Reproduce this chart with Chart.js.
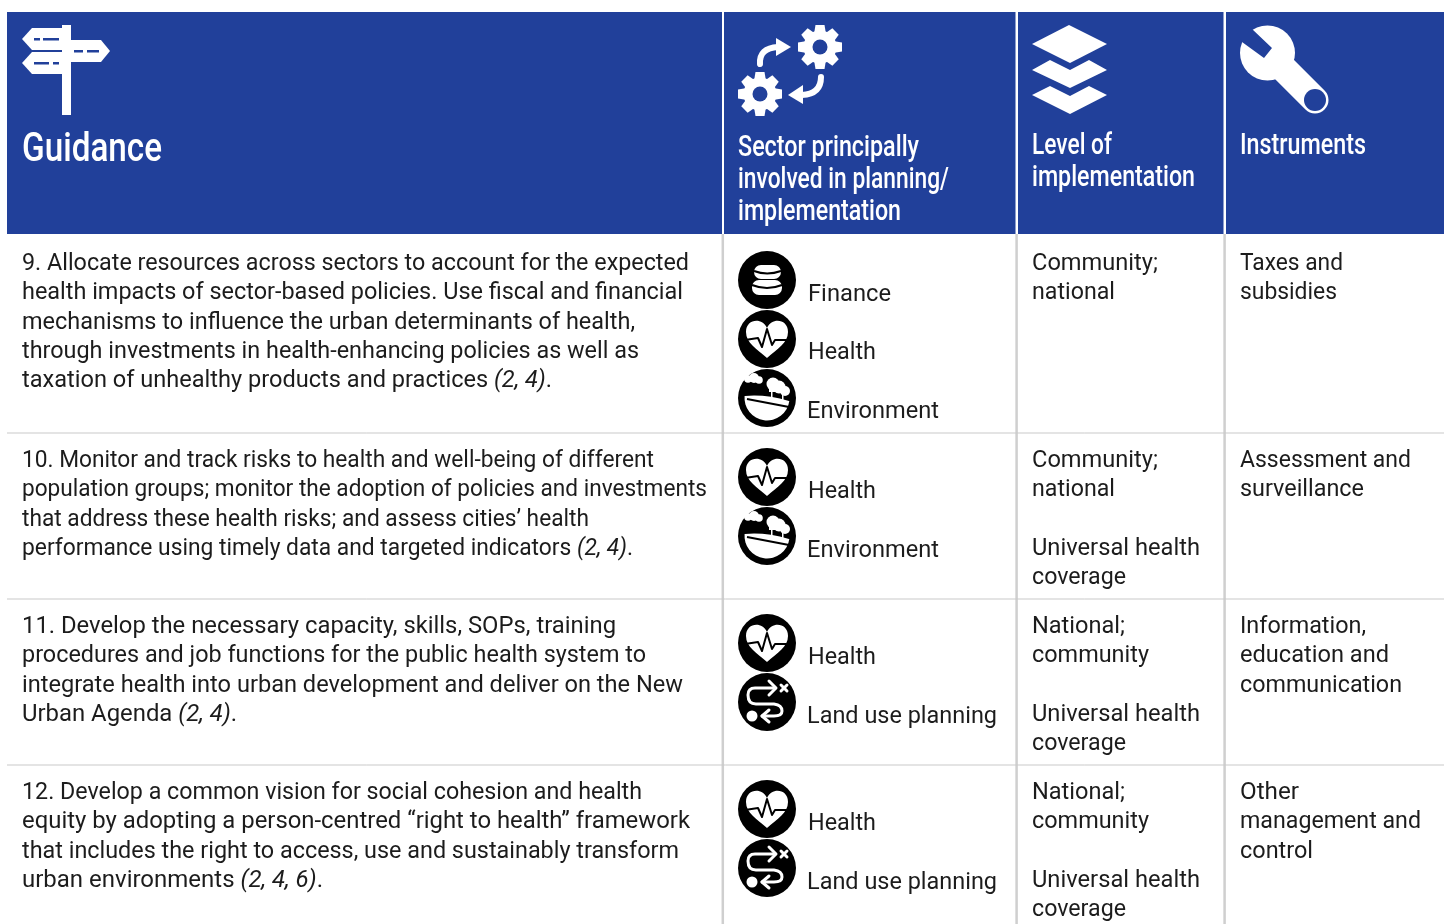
<!DOCTYPE html>
<html>
<head>
<meta charset="utf-8">
<title>Guidance table</title>
<script src="https://cdn.jsdelivr.net/npm/chart.js"></script>
<style>
    html, body { margin: 0; padding: 0; background: #fff; }
    canvas { display: block; }
</style>
</head>
<body>
<canvas id="tableChart" width="1444" height="924"></canvas>
<script>
// Table content
const guidanceTitle = 'Guidance';
const sectorTitle = ['Sector principally', 'involved in planning/', 'implementation'];
const levelTitle = ['Level of', 'implementation'];
const instrumentTitle = ['Instruments'];

// *...* marks the italic part of a line
const guidanceRows = [
    ['9. Allocate resources across sectors to account for the expected',
     'health impacts of sector-based policies. Use fiscal and financial',
     'mechanisms to influence the urban determinants of health,',
     'through investments in health-enhancing policies as well as',
     'taxation of unhealthy products and practices *(2, 4)*.'],
    ['10. Monitor and track risks to health and well-being of different',
     'population groups; monitor the adoption of policies and investments',
     'that address these health risks; and assess cities’ health',
     'performance using timely data and targeted indicators *(2, 4)*.'],
    ['11. Develop the necessary capacity, skills, SOPs, training',
     'procedures and job functions for the public health system to',
     'integrate health into urban development and deliver on the New',
     'Urban Agenda *(2, 4)*.'],
    ['12. Develop a common vision for social cohesion and health',
     'equity by adopting a person-centred “right to health” framework',
     'that includes the right to access, use and sustainably transform',
     'urban environments *(2, 4, 6)*.']
];
const sectorRows = [
    ['Finance', 'Health', 'Environment'],
    ['Health', 'Environment'],
    ['Health', 'Land use planning'],
    ['Health', 'Land use planning']
];
const levelRows = [
    ['Community;', 'national'],
    ['Community;', 'national', '', 'Universal health', 'coverage'],
    ['National;', 'community', '', 'Universal health', 'coverage'],
    ['National;', 'community', '', 'Universal health', 'coverage']
];
const instrumentRows = [
    ['Taxes and', 'subsidies'],
    ['Assessment and', 'surveillance'],
    ['Information,', 'education and', 'communication'],
    ['Other', 'management and', 'control']
];

// Grid and text fitting
const rowRules = [433, 599, 765];
const columnRules = [722.8, 1016.6, 1224.6];
const firstBaselines = [270, 467, 633, 799];
const sectorIconY = [[280, 339, 398], [477, 536], [643, 702], [809, 868]];
const sectorLabelY = [[301, 359, 418], [498, 557], [664, 723], [830, 889]];
const guidanceEnds = [
    [689, 683, 635, 639, 552],
    [654, 707, 589, 633],
    [616, 646, 683, 237],
    [642, 690, 679, 323]
];
const cellWidths = {
    'Finance': 83, 'Health': 68, 'Environment': 132, 'Land use planning': 190,
    'Community;': 126, 'national': 83, 'Universal health': 168, 'coverage': 94,
    'National;': 93, 'community': 117,
    'Taxes and': 103, 'subsidies': 97, 'Assessment and': 171, 'surveillance': 124,
    'Information,': 126, 'education and': 149, 'communication': 162,
    'Other': 59, 'management and': 181, 'control': 73
};

const NAVY = '#21409a';
const INK = '#1c1c1c';
const BODY_FONT = 'Roboto';
const BODY_SIZE = 24;
const LINE = 29.35;

function polygon(ctx, pts) {
    ctx.beginPath();
    pts.forEach((p, i) => i ? ctx.lineTo(p[0], p[1]) : ctx.moveTo(p[0], p[1]));
    ctx.closePath();
    ctx.fill();
}

function polyline(ctx, pts) {
    ctx.beginPath();
    pts.forEach((p, i) => i ? ctx.lineTo(p[0], p[1]) : ctx.moveTo(p[0], p[1]));
    ctx.stroke();
}

// Width-fitted header text
function fitted(ctx, text, x, y, size, width) {
    ctx.font = `500 ${size}px ${BODY_FONT}`;
    const k = width / ctx.measureText(text).width;
    ctx.save();
    ctx.translate(x, y);
    ctx.scale(k, 1);
    ctx.fillText(text, 0, 0);
    ctx.restore();
}

function spanWidth(ctx, text) {
    let total = 0;
    text.split('*').forEach((part, i) => {
        ctx.font = `${i % 2 ? 'italic ' : ''}${BODY_SIZE}px ${BODY_FONT}`;
        total += ctx.measureText(part).width;
    });
    return total;
}

// Body text fitted to a width, with italic spans
function bodyText(ctx, text, x, y, width) {
    const k = width / spanWidth(ctx, text);
    ctx.save();
    ctx.translate(x, y);
    ctx.scale(k, 1);
    let pen = 0;
    text.split('*').forEach((part, i) => {
        ctx.font = `${i % 2 ? 'italic ' : ''}${BODY_SIZE}px ${BODY_FONT}`;
        ctx.fillText(part, pen, 0);
        pen += ctx.measureText(part).width;
    });
    ctx.restore();
}

function drawGear(ctx, cx, cy) {
    ctx.fillStyle = '#fff';
    ctx.save();
    ctx.translate(cx, cy);
    for (let i = 0; i < 8; i++) {
        ctx.rotate(Math.PI / 4);
        polygon(ctx, [[-4.5, -22], [4.5, -22], [6, -13], [-6, -13]]);
    }
    ctx.beginPath();
    ctx.arc(0, 0, 16.5, 0, Math.PI * 2);
    ctx.fill();
    ctx.fillStyle = NAVY;
    ctx.beginPath();
    ctx.arc(0, 0, 7.5, 0, Math.PI * 2);
    ctx.fill();
    ctx.restore();
}

function drawHeaderIcons(ctx) {
    ctx.fillStyle = '#fff';
    ctx.strokeStyle = '#fff';
    // signpost
    ctx.fillRect(62, 25, 9, 90);
    polygon(ctx, [[22, 39], [32, 28], [63, 28], [63, 50], [32, 50]]);
    polygon(ctx, [[70, 40], [101, 40], [110, 51], [101, 62], [70, 62]]);
    polygon(ctx, [[22, 63], [32, 52], [63, 52], [63, 74], [32, 74]]);
    ctx.fillStyle = NAVY;
    [[34, 38, 6], [43, 38, 16], [74, 50, 9], [87, 50, 12], [34, 62, 15], [53, 62, 6]].forEach(d => {
        ctx.fillRect(d[0], d[1], d[2], 2.5);
    });

    // gears and arrows
    drawGear(ctx, 820, 47);
    drawGear(ctx, 760, 94);
    ctx.fillStyle = '#fff';
    ctx.lineWidth = 6;
    ctx.lineCap = 'round';
    ctx.beginPath();
    ctx.moveTo(760, 64);
    ctx.quadraticCurveTo(759, 48, 778, 47);
    ctx.stroke();
    polygon(ctx, [[776, 38], [791, 47], [776, 56]]);
    ctx.beginPath();
    ctx.moveTo(821, 77);
    ctx.quadraticCurveTo(821, 94, 802, 95);
    ctx.stroke();
    polygon(ctx, [[803, 85], [788, 95], [803, 104]]);

    // layers
    polygon(ctx, [[1032, 44], [1069, 25], [1107, 44], [1070, 63]]);
    polygon(ctx, [[1032, 70], [1050, 60], [1070, 70], [1089, 60], [1107, 70], [1070, 88]]);
    polygon(ctx, [[1032, 95], [1050, 86], [1070, 96], [1089, 86], [1107, 95], [1070, 114]]);

    // wrench
    ctx.beginPath();
    ctx.arc(1267.5, 53, 27.5, 0, Math.PI * 2);
    ctx.fill();
    ctx.lineWidth = 27;
    polyline(ctx, [[1275, 60], [1315, 100]]);
    ctx.fillStyle = NAVY;
    polygon(ctx, [[1252, 29], [1272, 48], [1264, 58], [1242, 42], [1236, 30], [1246, 22]]);
    ctx.beginPath();
    ctx.arc(1315, 100, 11, 0, Math.PI * 2);
    ctx.fill();
    ctx.lineCap = 'butt';
}

function drawFinance(ctx, c) {
    ctx.fillStyle = '#fff';
    ctx.beginPath();
    ctx.roundRect(c.x - 13, c.y - 15, 27, 14, 7);
    ctx.roundRect(c.x - 15, c.y + 0, 30, 15, 7);
    ctx.fill();
    ctx.strokeStyle = '#000';
    ctx.lineWidth = 2;
    ctx.beginPath();
    ctx.moveTo(c.x - 13, c.y - 9);
    ctx.quadraticCurveTo(c.x, c.y - 4, c.x + 14, c.y - 9);
    ctx.moveTo(c.x - 15, c.y + 5);
    ctx.quadraticCurveTo(c.x, c.y + 11, c.x + 15, c.y + 5);
    ctx.stroke();
}

function drawHeart(ctx, c) {
    ctx.fillStyle = '#fff';
    ctx.beginPath();
    ctx.moveTo(c.x, c.y + 19);
    ctx.bezierCurveTo(c.x - 10, c.y + 10, c.x - 21, c.y + 4, c.x - 21, c.y - 7);
    ctx.bezierCurveTo(c.x - 21, c.y - 20, c.x - 5, c.y - 22, c.x, c.y - 11);
    ctx.bezierCurveTo(c.x + 5, c.y - 22, c.x + 21, c.y - 20, c.x + 21, c.y - 7);
    ctx.bezierCurveTo(c.x + 21, c.y + 4, c.x + 10, c.y + 10, c.x, c.y + 19);
    ctx.fill();
    ctx.strokeStyle = '#000';
    ctx.lineWidth = 2;
    ctx.lineJoin = 'round';
    const ecg = [[-22, 1], [-9, -1], [-5, 8], [0, -10], [5, 6], [8, 1], [22, 1]];
    polyline(ctx, ecg.map(p => [c.x + p[0], c.y + p[1]]));
}

function drawEnvironment(ctx, c) {
    ctx.fillStyle = '#fff';
    // hill
    ctx.beginPath();
    ctx.moveTo(c.x - 22, c.y - 2);
    ctx.quadraticCurveTo(c.x - 2, c.y - 4, c.x + 22, c.y + 3);
    ctx.arc(c.x, c.y, 22.5, 0.13, Math.PI + 0.09);
    ctx.fill();
    // trees and cloud
    [[6, -14, 6.5], [12, -11, 6.5], [18, -7, 5], [-19, -19, 3.8], [-13, -20, 5], [-8, -18, 3.8]].forEach(b => {
        ctx.beginPath();
        ctx.arc(c.x + b[0], c.y + b[1], b[2], 0, Math.PI * 2);
        ctx.fill();
    });
    ctx.fillRect(c.x + 2, c.y - 10, 18, 4);
    ctx.fillRect(c.x + 4, c.y - 8, 1.5, 9);
    ctx.fillRect(c.x + 15, c.y - 8, 1.5, 10);
    ctx.strokeStyle = '#000';
    ctx.lineWidth = 2;
    polyline(ctx, [[c.x - 20, c.y + 1], [c.x + 22, c.y + 9]]);
}

function drawLandUse(ctx, c) {
    ctx.strokeStyle = '#fff';
    ctx.fillStyle = '#fff';
    ctx.lineWidth = 3;
    ctx.lineCap = 'round';
    ctx.lineJoin = 'round';
    ctx.beginPath();
    ctx.moveTo(c.x + 8, c.y - 14);
    ctx.lineTo(c.x - 12, c.y - 14);
    ctx.quadraticCurveTo(c.x - 19, c.y - 14, c.x - 19, c.y - 7);
    ctx.quadraticCurveTo(c.x - 19, c.y + 2, c.x - 11, c.y + 2);
    ctx.lineTo(c.x + 7, c.y + 2);
    ctx.quadraticCurveTo(c.x + 15, c.y + 3, c.x + 15, c.y + 9);
    ctx.quadraticCurveTo(c.x + 15, c.y + 14, c.x + 7, c.y + 14);
    ctx.lineTo(c.x - 5, c.y + 14);
    ctx.stroke();
    polyline(ctx, [[c.x + 2, c.y - 21], [c.x + 9, c.y - 14], [c.x + 2, c.y - 7]]);
    polyline(ctx, [[c.x + 2, c.y + 8], [c.x - 5, c.y + 14], [c.x + 2, c.y + 20]]);
    polyline(ctx, [[c.x + 14, c.y - 17], [c.x + 20, c.y - 11]]);
    polyline(ctx, [[c.x + 20, c.y - 17], [c.x + 14, c.y - 11]]);
    ctx.beginPath();
    ctx.arc(c.x - 15, c.y + 14, 5.5, 0, Math.PI * 2);
    ctx.fill();
    ctx.lineCap = 'butt';
}

const sectorIcons = {
    'Finance': drawFinance,
    'Health': drawHeart,
    'Environment': drawEnvironment,
    'Land use planning': drawLandUse
};

// Header blocks go under the rule datasets
const headerPlugin = {
    id: 'headerBlocks',
    beforeDatasetsDraw(chart) {
        const { ctx, scales: { x, y } } = chart;
        ctx.save();
        ctx.fillStyle = NAVY;
        [[7, 722], [724, 1015.5], [1018, 1223.5], [1226, 1444]].forEach(b => {
            ctx.fillRect(x.getPixelForValue(b[0]), y.getPixelForValue(12), b[1] - b[0], 222);
        });
        ctx.restore();
    }
};

// Text and icon glyphs on top of the grid
const tablePlugin = {
    id: 'tableText',
    afterDatasetsDraw(chart) {
        const { ctx } = chart;
        ctx.save();
        drawHeaderIcons(ctx);

        ctx.fillStyle = '#fff';
        ctx.textBaseline = 'alphabetic';
        fitted(ctx, guidanceTitle, 22, 161, 41, 140);
        [181, 211, 163].forEach((w, i) => fitted(ctx, sectorTitle[i], 738, 156 + i * 32, 30, w));
        [80, 163].forEach((w, i) => fitted(ctx, levelTitle[i], 1032, 154 + i * 32, 30, w));
        fitted(ctx, instrumentTitle[0], 1240, 154, 30, 126);

        ctx.fillStyle = INK;
        firstBaselines.forEach((first, r) => {
            guidanceRows[r].forEach((t, i) => {
                bodyText(ctx, t, 22, first + i * LINE, guidanceEnds[r][i] - 22);
            });
            levelRows[r].forEach((t, i) => {
                if (t) bodyText(ctx, t, 1032, first + i * LINE, cellWidths[t]);
            });
            instrumentRows[r].forEach((t, i) => {
                bodyText(ctx, t, 1240, first + i * LINE, cellWidths[t]);
            });
            sectorRows[r].forEach((t, i) => {
                const x = t === 'Finance' || t === 'Health' ? 808 : 807;
                bodyText(ctx, t, x, sectorLabelY[r][i], cellWidths[t]);
            });
        });

        // glyphs inside the black discs
        const discs = chart.getDatasetMeta(chart.data.datasets.length - 1).data;
        let n = 0;
        sectorRows.forEach(row => row.forEach(name => {
            ctx.save();
            sectorIcons[name](ctx, discs[n]);
            ctx.restore();
            n++;
        }));
        ctx.restore();
    }
};

const ruleDatasets = [];
rowRules.forEach(v => ruleDatasets.push({
    data: [{ x: 7, y: v }, { x: 1444, y: v }],
    showLine: true, borderColor: '#c9c9c9', borderWidth: 1, pointRadius: 0
}));
columnRules.forEach(v => ruleDatasets.push({
    data: [{ x: v, y: 234 }, { x: v, y: 924 }],
    showLine: true, borderColor: '#cfcfcf', borderWidth: 2.5, pointRadius: 0
}));

const discData = [];
sectorIconY.forEach(row => row.forEach(v => discData.push({ x: 767, y: v })));

new Chart(document.getElementById('tableChart'), {
    type: 'scatter',
    data: {
        datasets: [...ruleDatasets, {
            data: discData,
            backgroundColor: '#000',
            borderWidth: 0,
            pointRadius: 29,
            pointHoverRadius: 29
        }]
    },
    options: {
        responsive: false,
        animation: false,
        events: [],
        layout: { padding: 0, autoPadding: false },
        plugins: { legend: { display: false }, tooltip: { enabled: false }, title: { display: false } },
        scales: {
            x: { type: 'linear', display: false, min: 0, max: 1444 },
            y: { type: 'linear', display: false, min: 0, max: 924, reverse: true }
        }
    },
    plugins: [headerPlugin, tablePlugin]
});
</script>
</body>
</html>
